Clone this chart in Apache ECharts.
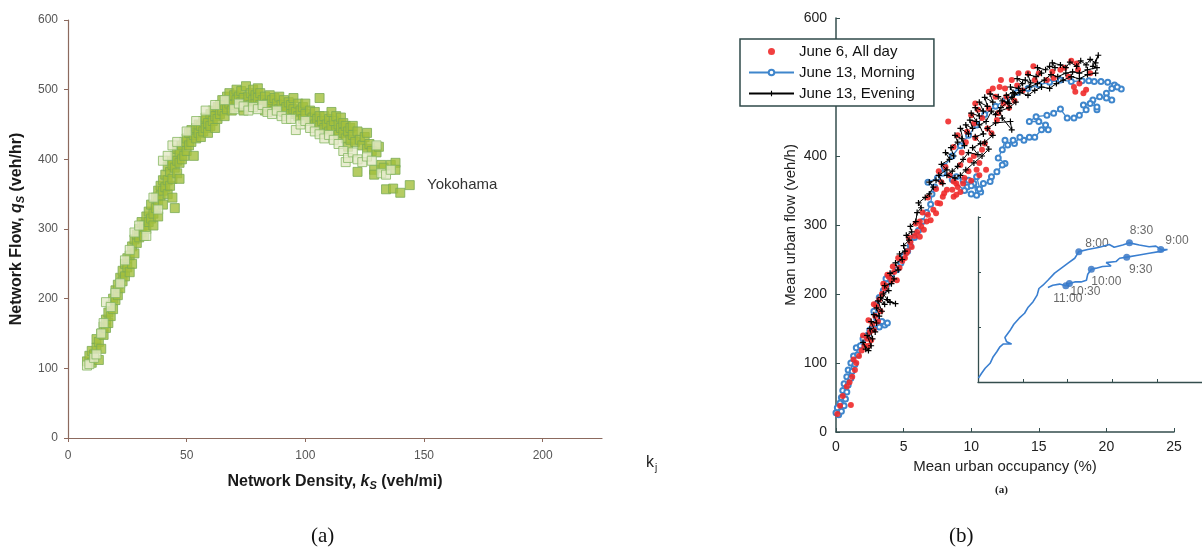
<!DOCTYPE html>
<html>
<head>
<meta charset="utf-8">
<script src="https://cdn.jsdelivr.net/npm/echarts@6/dist/echarts.min.js"></script>
<style>
html,body{margin:0;padding:0;background:#fff;}
#chart{width:1202px;height:554px;}
</style>
</head>
<body>
<div id="chart"></div>
<script>
// ---------- Panel (a): Yokohama network flow vs density ----------
const leftXTicks = [0, 50, 100, 150, 200];
const yokohamaFilled = [
[8,110],[9,118],[10,108],[10,125],[11,120],[12,130],[12,142],[13,112],[13,138],[14,150],[14,128],[15,148],[15,160],[16,158],[16,170],[17,165],[17,180],[18,175],[18,190],[19,185],[19,200],[20,198],[20,212],[21,205],[21,220],[22,215],[22,230],[23,225],[23,240],[24,232],[24,250],[25,245],[25,258],[26,238],[26,262],[27,250],[27,275],[28,265],[28,285],[29,280],[29,292],[30,288],[30,300],[31,295],[31,310],[32,290],[32,305],[33,300],[33,318],[34,310],[34,325],[35,315],[35,335],[36,305],[36,322],[37,330],[37,345],[38,318],[38,340],[38,355],[39,348],[39,362],[40,335],[40,355],[40,370],[41,360],[41,378],[42,350],[42,370],[42,390],[43,362],[43,382],[43,398],[44,345],[44,372],[44,392],[45,330],[45,388],[45,405],[46,380],[46,398],[46,415],[47,372],[47,395],[47,410],[48,400],[48,420],[49,405],[49,425],[50,412],[50,430],[51,420],[51,438],[52,425],[52,442],[53,405],[53,435],[54,430],[54,445],[55,438],[55,450],[56,432],[56,448],[57,440],[57,455],[58,445],[58,460],[59,438],[59,452],[60,448],[60,465],[61,455],[61,470],[62,445],[62,462],[63,458],[63,475],[64,465],[64,478],[65,470],[65,485],[66,462],[66,478],[67,472],[67,490],[68,480],[68,495],[69,470],[69,485],[70,478],[70,492],[71,485],[71,500],[72,475],[72,490],[73,482],[73,498],[74,470],[74,488],[75,480],[75,505],[76,490],[77,478],[77,495],[78,485],[78,500],[79,480],[79,492],[80,488],[80,502],[81,478],[81,495],[82,485],[83,490],[83,470],[84,480],[85,475],[85,492],[86,485],[87,470],[87,488],[88,480],[89,472],[89,490],[90,478],[91,485],[91,468],[92,475],[93,482],[94,465],[94,478],[95,472],[95,488],[96,468],[97,480],[97,462],[98,470],[99,458],[99,475],[100,465],[100,480],[101,455],[102,470],[103,460],[104,468],[104,450],[105,458],[106,448],[106,462],[106,488],[107,455],[108,445],[108,462],[109,450],[110,440],[110,458],[111,448],[111,468],[112,455],[113,442],[113,462],[114,450],[114,435],[115,445],[115,460],[116,438],[116,452],[117,430],[117,448],[118,440],[118,418],[119,445],[119,428],[120,435],[120,448],[121,425],[122,440],[122,382],[123,428],[124,420],[125,432],[126,415],[126,438],[127,422],[128,412],[129,385],[129,378],[130,410],[131,418],[132,392],[133,388],[134,357],[136,392],[137,358],[138,395],[138,385],[140,352],[144,363]
];
const yokohamaLight = [
[8,104],[9,106],[11,115],[12,120],[14,150],[15,165],[16,195],[18,188],[20,208],[22,222],[24,255],[26,270],[28,295],[30,305],[33,290],[36,345],[38,328],[40,398],[42,405],[44,420],[46,425],[50,440],[54,455],[58,470],[62,478],[66,485],[70,472],[72,480],[74,476],[76,470],[78,475],[80,472],[82,478],[84,468],[86,465],[88,470],[90,462],[92,458],[94,458],[96,442],[98,450],[100,455],[102,445],[104,440],[106,436],[108,430],[110,435],[112,428],[114,422],[116,412],[117,396],[118,402],[120,410],[122,400],[124,396],[126,404],[128,398],[130,420],[132,380],[134,378],[136,385]
];

// ---------- Panel (b): mean urban flow vs occupancy ----------
const june6AllDay = [
[0.1,26],[0.3,38],[0.5,52],[1.1,39],[0.8,66],[1.0,72],[1.2,80],[1.4,90],[1.5,100],[1.7,110],[1.9,118],[2.1,125],[2.3,135],[2.4,125],[2.5,145],[2.6,133],[2.7,157],[2.8,148],[2.9,168],[3.0,182],[3.1,160],[3.2,192],[3.3,175],[3.4,200],[3.6,208],[3.7,212],[3.9,225],[4.1,220],[4.3,232],[4.5,220],[4.7,238],[4.9,248],[5.1,252],[5.3,262],[5.2,259],[5.5,275],[5.6,268],[5.8,284],[6.0,290],[6.2,283],[6.3,298],[6.5,293],[6.7,305],[7.0,307],[7.2,322],[7.4,317],[7.5,332],[7.7,331],[7.9,341],[8.2,351],[8.0,346],[8.7,341],[8.6,351],[8.9,360],[9.0,355],[9.4,360],[8.7,363],[9.5,368],[9.2,387],[9.9,394],[10.8,409],[11.0,418],[10.3,426],[9.7,435],[10.2,447],[10.0,459],[10.5,467],[10.3,476],[11.3,469],[11.3,493],[11.8,486],[12.1,500],[12.5,498],[12.6,486],[13.5,520],[14.2,520],[15.0,520],[14.7,510],[15.6,510],[16.1,513],[16.6,525],[17.8,534],[17.9,525],[17.6,500],[17.7,493],[18.3,491],[18.5,496],[18.0,505],[8.3,450],[11.9,452],[11.5,433],[8.7,413],[9.0,430],[9.6,420],[10.2,400],[10.6,390],[11.2,440],[12.0,462],[12.8,470],[13.2,480],[13.8,495],[12.4,476],[10.8,455],[9.3,405],[9.8,378],[10.4,380],[8.4,372],[7.8,362],[8.1,384],[7.6,378],[6.8,340],[6.4,318],[5.9,302],[5.4,282],[4.6,252],[4.2,240],[3.8,228],[3.5,215],[2.8,185],[2.4,162],[2.0,140],[1.3,105],[16.0,522],[16.9,528],[17.2,515],[18.8,520],[17.4,538],[14.6,530],[13.0,510],[12.2,510],[11.6,498],[13.4,502],[10.0,364],[10.6,372],[11.1,380],[9.2,348],[8.9,344],[7.4,352],[6.8,315],[6.2,305]
];
const june13Morning = [
[0.0,28],[0.2,25],[0.1,35],[0.4,30],[0.3,42],[0.6,38],[0.4,50],[0.7,48],[0.5,60],[0.8,58],[0.6,70],[0.9,68],[0.8,80],[1.1,78],[0.9,90],[1.2,88],[1.1,100],[1.4,98],[1.3,110],[1.6,112],[1.5,122],[1.8,125],[2.0,135],[2.3,140],[2.5,148],[2.8,150],[3.2,152],[3.6,155],[3.8,158],[3.4,160],[3.0,165],[2.8,175],[3.0,185],[3.2,195],[3.5,205],[3.8,215],[3.7,222],[4.1,228],[4.5,235],[4.8,245],[5.0,255],[5.3,262],[5.5,270],[5.8,282],[6.1,292],[6.4,305],[6.7,318],[7.0,330],[7.1,345],[7.3,355],[6.8,362],[7.5,368],[8.0,385],[8.6,400],[9.2,415],[9.8,430],[10.4,445],[11.0,460],[11.8,472],[12.6,482],[13.4,492],[14.2,498],[15.0,503],[15.8,507],[16.6,510],[17.4,508],[18.2,509],[18.7,509],[19.1,508],[19.6,508],[20.1,507],[20.6,503],[21.1,497],[20.8,500],[20.4,498],[20.0,491],[20.4,481],[20.0,484],[19.5,486],[19.0,481],[19.3,467],[19.3,471],[18.8,476],[18.3,474],[18.5,467],[18.0,459],[17.6,455],[17.1,455],[16.6,468],[16.1,462],[15.6,459],[14.8,457],[14.3,450],[15.0,450],[15.5,445],[15.7,438],[15.2,438],[14.7,427],[14.3,427],[13.9,423],[13.6,427],[13.2,418],[13.1,423],[12.7,416],[12.5,423],[12.3,409],[12.0,397],[12.5,389],[12.3,387],[11.9,377],[11.5,370],[11.4,363],[10.9,360],[10.7,348],[10.4,370],[9.7,355],[9.4,365],[8.9,370],[7.9,375],[8.6,366],[9.5,350],[10.0,345],[10.4,343],[10.2,360],[9.8,365],[10.6,352],[10.0,357]
];
const june13Evening = [
[2.2,120],[2.0,130],[2.4,118],[2.6,125],[2.3,140],[2.7,135],[2.5,150],[2.9,145],[2.6,160],[3.0,158],[2.8,170],[3.2,168],[3.0,180],[3.4,175],[3.1,190],[3.6,185],[3.3,195],[4.0,188],[4.4,186],[3.8,192],[3.5,200],[3.9,205],[3.6,212],[4.1,215],[4.3,222],[4.0,230],[4.6,235],[4.4,245],[4.9,250],[4.7,258],[5.1,262],[5.0,270],[5.4,278],[5.2,285],[5.6,290],[5.5,298],[5.9,305],[6.0,318],[6.3,325],[6.1,332],[6.6,340],[6.9,345],[7.2,355],[6.9,362],[7.4,365],[7.9,360],[7.6,372],[8.2,380],[7.8,388],[8.4,395],[8.1,405],[8.7,400],[8.5,412],[9.0,420],[8.8,430],[9.3,425],[9.5,415],[9.2,440],[9.8,432],[9.6,445],[10.1,440],[9.9,452],[10.4,450],[10.0,462],[10.6,458],[10.3,470],[10.9,465],[10.6,478],[11.2,472],[11.0,485],[11.6,478],[11.4,490],[12.0,486],[12.3,480],[12.8,476],[12.6,488],[13.1,492],[12.9,500],[13.5,498],[13.8,505],[13.4,512],[14.0,510],[14.4,506],[14.2,518],[14.8,515],[15.2,520],[14.9,528],[15.5,525],[15.8,530],[16.2,528],[16.0,535],[16.6,532],[17.0,528],[17.3,536],[17.8,530],[18.1,538],[18.5,532],[18.8,540],[19.2,535],[19.4,546],[19.0,530],[19.3,528],[18.6,525],[18.0,520],[17.5,522],[17.0,520],[16.4,515],[15.9,518],[15.4,510],[14.9,505],[14.3,500],[13.8,495],[13.2,490],[12.7,478],[12.2,470],[11.8,460],[11.5,465],[11.1,450],[10.6,445],[10.9,432],[10.3,428],[10.7,418],[10.1,412],[10.5,402],[9.8,405],[9.4,395],[9.0,385],[8.6,378],[8.2,372],[8.8,368],[9.2,372],[9.6,380],[10.2,390],[10.8,400],[11.3,410],[11.0,420],[11.6,430],[11.2,440],[11.8,448],[12.9,450],[13.0,438],[12.3,455],[12.1,465],[12.8,470],[13.3,478],[13.0,485],[13.6,492],[14.2,488],[14.7,495],[15.2,500],[15.8,498],[16.3,505],[16.8,510],[17.4,515],[18.0,512],[18.6,518],[19.2,520]
];

// ---------- Inset (morning loop, unlabeled axes) ----------
const insetPath = [
[0.01,0.07],[0.08,0.16],[0.16,0.25],[0.27,0.34],[0.34,0.46],[0.30,0.49],[0.42,0.55],[0.49,0.64],[0.56,0.69],[0.75,0.69],[0.64,0.73],[0.60,0.81],[0.71,0.93],[0.80,1.05],[0.92,1.16],[1.04,1.25],[1.12,1.36],[1.23,1.46],[1.32,1.58],[1.36,1.70],[1.45,1.76],[1.56,1.85],[1.71,1.98],[1.86,2.07],[2.01,2.16],[2.16,2.25],[2.25,2.37],[2.45,2.41],[2.71,2.45],[2.93,2.50],[3.04,2.45],[3.23,2.49],[3.38,2.53],[3.60,2.49],[3.82,2.46],[3.97,2.47],[4.08,2.41],[4.23,2.41],[4.04,2.37],[3.82,2.34],[3.60,2.31],[3.32,2.27],[3.16,2.25],[3.08,2.19],[2.86,2.17],[2.97,2.11],[2.78,2.10],[2.64,2.07],[2.53,2.05],[2.45,1.96],[2.42,1.85],[2.30,1.82],[2.16,1.82],[2.04,1.79],[1.96,1.75],[1.82,1.78],[1.67,1.76],[1.56,1.72]
];
const insetTimePoints = [[2.25,2.37],[3.38,2.53],[4.08,2.41],[3.32,2.27],[2.53,2.05],[2.04,1.79],[1.96,1.75]];
const insetTimeLabels = ['8:00','8:30','9:00','9:30','10:00','10:30','11:00'];

// ---------- build chart ----------
const labelPlacement = [
  {position:'right', offset:[-2,-8]},
  {position:'top', offset:[12,2]},
  {position:'right', offset:[-4,-9]},
  {position:'bottom', offset:[14,-2]},
  {position:'bottom', offset:[15,-2]},
  {position:'bottom', offset:[16,-6]},
  {position:'bottom', offset:[2,-2]}
];
const timeData = insetTimePoints.map((p, i) => ({
  value: p, name: insetTimeLabels[i],
  label: Object.assign({show:true, formatter: insetTimeLabels[i]}, labelPlacement[i])
}));

const FONT = '"Liberation Sans", Arial, sans-serif';
const plusSymbol = 'path://M2,0L3,0L3,2L5,2L5,3L3,3L3,5L2,5L2,3L0,3L0,2L2,2Z';
const leftAxisColor = '#8c6a5e';
const rightAxisColor = '#344e4e';

const chart = echarts.init(document.getElementById('chart'));
chart.setOption({
  animation: false,
  backgroundColor: '#ffffff',
  textStyle: {fontFamily: FONT},
  grid: [
    {left: 68, top: 20, width: 534, height: 418, containLabel: false},
    {left: 836, top: 18, width: 338, height: 414, containLabel: false},
    {left: 978, top: 217, width: 225, height: 165, containLabel: false}
  ],
  legend: {
    data: [{name: 'June 6, All day', icon: 'circle'}, 'June 13, Morning', 'June 13, Evening'],
    orient: 'vertical',
    left: 740, top: 39,
    itemWidth: 45, itemHeight: 7, itemGap: 6,
    padding: [5, 19, 5, 8],
    backgroundColor: '#ffffff',
    borderColor: '#2f4a4a', borderWidth: 1.5,
    textStyle: {fontSize: 15, color: '#111', fontFamily: FONT},
    z: 10
  },
  xAxis: [
    {
      gridIndex: 0, type: 'value', min: 0, max: 225,
      name: 'Network Density, {i|k}{s|S} (veh/mi)', nameLocation: 'middle', nameGap: 35,
      nameTextStyle: {fontSize: 16, fontWeight: 'bold', color: '#1a1a1a',
        rich: {i: {fontSize: 16, fontStyle: 'italic', fontWeight: 'bold', color: '#1a1a1a'},
               s: {fontSize: 11, fontStyle: 'italic', fontWeight: 'bold', color: '#1a1a1a', padding: [7, 0, 0, 0]}}},
      splitLine: {show: false},
      axisLine: {onZero: false, lineStyle: {color: leftAxisColor, width: 1.2}},
      axisTick: {show: true, inside: false, length: 4, customValues: leftXTicks, lineStyle: {color: leftAxisColor}},
      axisLabel: {customValues: leftXTicks, fontSize: 12, color: '#555', margin: 12}
    },
    {
      gridIndex: 1, type: 'value', min: 0, max: 25, interval: 5,
      name: 'Mean urban occupancy (%)', nameLocation: 'middle', nameGap: 27,
      nameTextStyle: {fontSize: 15, color: '#222'},
      splitLine: {show: false},
      axisLine: {onZero: false, lineStyle: {color: rightAxisColor, width: 1.5}},
      axisTick: {inside: true, length: 4, lineStyle: {color: rightAxisColor}},
      axisLabel: {fontSize: 14, color: '#222', margin: 8}
    },
    {
      gridIndex: 2, type: 'value', min: 0, max: 5, interval: 1,
      splitLine: {show: false},
      axisLine: {onZero: false, lineStyle: {color: rightAxisColor, width: 1.3}},
      axisTick: {inside: true, length: 3, lineStyle: {color: rightAxisColor}},
      axisLabel: {show: false}
    }
  ],
  yAxis: [
    {
      gridIndex: 0, type: 'value', min: 0, max: 600, interval: 100,
      name: 'Network Flow, {i|q}{s|S} (veh/hr)', nameLocation: 'middle', nameGap: 42,
      nameTextStyle: {fontSize: 16, fontWeight: 'bold', color: '#1a1a1a',
        rich: {i: {fontSize: 16, fontStyle: 'italic', fontWeight: 'bold', color: '#1a1a1a'},
               s: {fontSize: 11, fontStyle: 'italic', fontWeight: 'bold', color: '#1a1a1a', padding: [7, 0, 0, 0]}}},
      splitLine: {show: false},
      axisLine: {show: true, onZero: false, lineStyle: {color: leftAxisColor, width: 1.2}},
      axisTick: {show: true, inside: false, length: 4, lineStyle: {color: leftAxisColor}},
      axisLabel: {fontSize: 12, color: '#555', margin: 10}
    },
    {
      gridIndex: 1, type: 'value', min: 0, max: 600, interval: 100,
      name: 'Mean urban flow (veh/h)', nameLocation: 'middle', nameGap: 38,
      nameTextStyle: {fontSize: 15, color: '#222'},
      splitLine: {show: false},
      axisLine: {show: true, onZero: false, lineStyle: {color: rightAxisColor, width: 1.5}},
      axisTick: {show: true, inside: true, length: 4, lineStyle: {color: rightAxisColor}},
      axisLabel: {fontSize: 14, color: '#222', margin: 9}
    },
    {
      gridIndex: 2, type: 'value', min: 0, max: 3, interval: 1,
      splitLine: {show: false},
      axisLine: {show: true, onZero: false, lineStyle: {color: rightAxisColor, width: 1.3}},
      axisTick: {show: true, inside: true, length: 3, lineStyle: {color: rightAxisColor}},
      axisLabel: {show: false}
    }
  ],
  series: [
    {
      name: 'Yokohama', type: 'scatter', xAxisIndex: 0, yAxisIndex: 0,
      data: yokohamaFilled, symbol: 'rect', symbolSize: 9,
      itemStyle: {color: '#a2bf3c', borderColor: '#7aab55', borderWidth: 1}
    },
    {
      name: 'Yokohama (light)', type: 'scatter', xAxisIndex: 0, yAxisIndex: 0,
      data: yokohamaLight, symbol: 'rect', symbolSize: 9,
      itemStyle: {color: '#e2e8c6', borderColor: '#86b863', borderWidth: 1}
    },
    {
      name: 'June 13, Morning', type: 'line', xAxisIndex: 1, yAxisIndex: 1, z: 2,
      data: june13Morning, symbol: 'emptyCircle', symbolSize: 5, showAllSymbol: true,
      lineStyle: {color: '#3f86cc', width: 1.3},
      itemStyle: {color: '#3f86cc', borderWidth: 1.2}
    },
    {
      name: 'June 6, All day', type: 'scatter', xAxisIndex: 1, yAxisIndex: 1, z: 5,
      data: june6AllDay, symbol: 'circle', symbolSize: 6,
      itemStyle: {color: '#f02a2a', opacity: 0.9}
    },
    {
      name: 'June 13, Evening', type: 'line', xAxisIndex: 1, yAxisIndex: 1, z: 6,
      data: june13Evening, symbol: plusSymbol, symbolSize: 6, showAllSymbol: true,
      lineStyle: {color: '#000', width: 1},
      itemStyle: {color: '#000'}
    },
    {
      name: 'Inset morning', type: 'line', xAxisIndex: 2, yAxisIndex: 2,
      data: insetPath, showSymbol: false,
      lineStyle: {color: '#3a7fd0', width: 1.6}
    },
    {
      name: 'Inset times', type: 'scatter', xAxisIndex: 2, yAxisIndex: 2,
      data: timeData, symbol: 'circle', symbolSize: 7,
      itemStyle: {color: '#2f6fc0'},
      label: {show: true, fontSize: 12, color: '#444', fontFamily: FONT}
    }
  ],
  graphic: [
    {type: 'text', left: 427, top: 177, style: {text: 'Yokohama', font: '15px "Liberation Sans", Arial, sans-serif', fill: '#333'}},
    {type: 'text', left: 646, top: 455, style: {
      text: '{k|k}{j|j}', rich: {k: {font: '16px "Liberation Sans", Arial, sans-serif', fill: '#222'},
                                 j: {font: '10px "Liberation Sans", Arial, sans-serif', fill: '#222', padding: [10, 0, 0, 1]}}}},
    {type: 'text', left: 995, top: 485, style: {text: '(a)', font: 'bold 11px "Liberation Serif", "DejaVu Serif", serif', fill: '#222'}},
    {type: 'text', left: 311, top: 526, style: {text: '(a)', font: '21px "Liberation Serif", "DejaVu Serif", serif', fill: '#111'}},
    {type: 'text', left: 949, top: 526, style: {text: '(b)', font: '21px "Liberation Serif", "DejaVu Serif", serif', fill: '#111'}}
  ]
});
</script>
</body>
</html>
